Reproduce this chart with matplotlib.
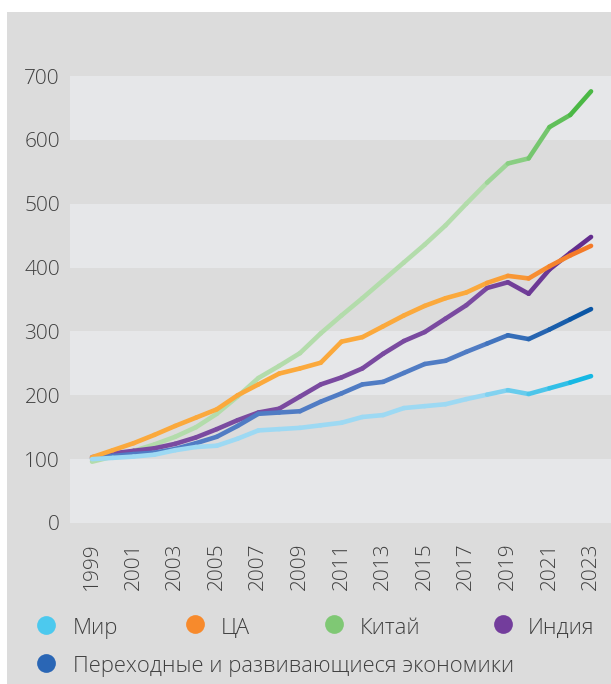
import matplotlib
matplotlib.use('Agg')
import matplotlib.pyplot as plt
import numpy as np
from matplotlib.collections import LineCollection
from matplotlib.colors import to_rgb
from matplotlib.patches import Rectangle

# ---------------- data ----------------
years = list(range(1999, 2024))
mir = [100, 102, 104, 107, 114, 119, 121, 132, 145, 147, 149, 153, 157, 166, 169,
       180, 183, 186, 194, 201, 208, 202, 211, 220, 230]
ca = [103, 114, 125, 138, 152, 165, 178, 200, 217, 234, 242, 251, 284, 291, 308,
      325, 340, 352, 361, 376, 387, 383, 402, 419, 434]
china = [96, 104, 113, 123, 135, 150, 171, 198, 227, 246, 266, 297, 325, 352, 380,
         408, 436, 466, 500, 533, 563, 571, 620, 639, 676]
india = [103, 109, 113, 117, 124, 134, 147, 161, 173, 179, 198, 217, 228, 242, 265,
         285, 299, 320, 341, 368, 377, 359, 397, 423, 448]
emde = [101, 105, 108, 110, 116, 125, 135, 152, 171, 173, 175, 190, 203, 217, 221,
        235, 249, 254, 268, 281, 294, 288, 303, 319, 335]

labels = ['Мир', 'ЦА', 'Китай', 'Индия', 'Переходные и развивающиеся экономики']
ytick_vals = [0, 100, 200, 300, 400, 500, 600, 700]
xtick_vals = years[::2]

# ---------------- style ----------------
plt.rcParams['font.family'] = ['Open Sans', 'DejaVu Sans']
plt.rcParams['font.weight'] = 'light'
TXT = '#404040'
BG = '#dcdcdc'
BAND = '#e6e7e9'

series = {
    'Мир': (mir, '#9dd9f3', '#16b8e4', '#4cc9ee'),
    'ЦА': (ca, '#fba93c', '#f47a28', '#f78a2c'),
    'Китай': (china, '#b3dcab', '#4bb845', '#7fc874'),
    'Индия': (india, '#7a4aa0', '#632d8e', '#733d9c'),
    'Переходные и развивающиеся экономики': (emde, '#507cc4', '#0b56a5', '#2a66b5'),
}
draw_order = ['Китай', 'Индия', 'Переходные и развивающиеся экономики', 'ЦА', 'Мир']

W, H = 611, 684
fig = plt.figure(figsize=(W / 100, H / 100), dpi=100, facecolor='white')
fig.patches.append(Rectangle((7 / W, 0), 1 - 7 / W, 1 - 12 / H,
                             transform=fig.transFigure, facecolor=BG,
                             edgecolor='none', zorder=-10))

ax = fig.add_axes([70 / W, 1 - 523 / H, 541 / W, 447 / H])
ax.set_facecolor(BG)
for lo in (0, 200, 400, 600):
    ax.axhspan(lo, lo + 100, color=BAND, lw=0, zorder=0)
ax.set_ylim(0, 700)
ax.set_xlim(1997.94, 2023.96)
for s in ax.spines.values():
    s.set_visible(False)
ax.set_yticks(ytick_vals)
ax.set_xticks(xtick_vals)
ax.set_xticklabels([str(y) for y in xtick_vals], rotation=90)
ax.tick_params(axis='both', length=0, labelsize=15, colors=TXT)
ax.tick_params(axis='y', pad=7.2)
ax.tick_params(axis='x', pad=14)


def lerp(c1, c2, t):
    a, b = np.array(to_rgb(c1)), np.array(to_rgb(c2))
    return tuple(a + (b - a) * t)


for z, name in enumerate(draw_order):
    vals, c0, c1, _ = series[name]
    pts = np.column_stack([years, vals])
    segs = [pts[i:i + 2] for i in range(len(pts) - 1)]
    cols = []
    for i in range(len(segs)):
        t = min(max((i - 18) / 5, 0), 1)
        cols.append(lerp(c0, c1, t))
    lc = LineCollection(segs, colors=cols, linewidths=3.3, capstyle='round',
                        joinstyle='round', zorder=3 + z)
    ax.add_collection(lc)

# ---------------- legend ----------------
lax = fig.add_axes([0, 0, 1, 1])
lax.set_xlim(0, W)
lax.set_ylim(H, 0)
lax.axis('off')
lax.patch.set_alpha(0)
leg_pos = [(45.5, 625, 73, 634), (194.5, 624, 221, 634), (333.5, 624, 360, 634),
           (503, 624, 528, 634), (45.5, 662.5, 73, 672)]
for name, (mx, my, tx, ty) in zip(labels, leg_pos):
    col = series[name][3]
    lax.plot([mx], [my], 'o', ms=13.5, color=col, mec='none')
    lax.text(tx, ty, name, fontsize=15.8, color=TXT, ha='left', va='baseline')

fig.savefig('out.png', dpi=100, facecolor=fig.get_facecolor())
